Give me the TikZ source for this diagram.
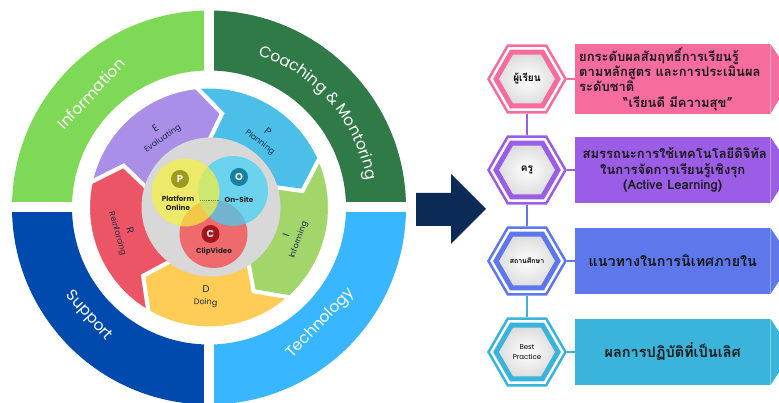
\documentclass[tikz,border=0pt]{standalone}
\usepackage{fontspec}
\setmainfont{Poppins}
\newfontfamily\thaifont[Script=Thai]{Loma}
\usetikzlibrary{shapes.geometric,decorations.text}

\definecolor{infogreen}{HTML}{7ED957}
\definecolor{coachgreen}{HTML}{2F7A47}
\definecolor{supportblue}{HTML}{004AAD}
\definecolor{techblue}{HTML}{38B6FF}
\definecolor{evalpurple}{HTML}{A98FE8}
\definecolor{planblue}{HTML}{4BBFE7}
\definecolor{informgreen}{HTML}{A2D66B}
\definecolor{doyellow}{HTML}{FFCC55}
\definecolor{reinred}{HTML}{EC5565}
\definecolor{pdcatext}{HTML}{1C2B4B}
\definecolor{venngray}{HTML}{D8D8D8}
\definecolor{vennyellow}{HTML}{F6F13B}
\definecolor{vennblue}{HTML}{3DD2F7}
\definecolor{vennred}{HTML}{F93C3F}
\definecolor{badgeP}{HTML}{9E9A1E}
\definecolor{badgeO}{HTML}{17819F}
\definecolor{badgeC}{HTML}{A3161B}
\definecolor{navyarrow}{HTML}{0B2A55}
\definecolor{learnpink}{HTML}{F76C9F}
\definecolor{teachpurple}{HTML}{9B5DE5}
\definecolor{schoolblue}{HTML}{5E78EC}
\definecolor{bestcyan}{HTML}{3BB4DC}

\begin{document}
\begin{tikzpicture}[x=1pt,y=1pt,
   ringlabel/.style={text=white,font=\fontsize{15.5}{16}\selectfont},
   pdcalabel/.style={text=pdcatext,align=center,inner sep=0pt,
      font=\fontsize{8}{12}\selectfont},
   venntext/.style={text=black!85,align=center,inner sep=1pt,
      font=\fontsize{7.2}{9}\selectfont\bfseries},
   badge/.style={circle,minimum size=18pt,inner sep=0pt,fill=#1,text=white!90!#1,
      font=\fontsize{10}{10}\selectfont\bfseries},
   hexouter/.style={regular polygon,regular polygon sides=6,minimum size=77pt,
      inner sep=0pt,draw=#1,line width=2.5pt,fill=white},
   hexinner/.style={regular polygon,regular polygon sides=6,minimum size=62pt,
      inner sep=1pt,draw=#1,line width=5pt,inner color=white,outer color=gray!28,
      align=center,text=black,font=\fontsize{10}{11}\selectfont\thaifont\bfseries},
   infobox/.style={fill=#1,anchor=west,text width=180pt,inner xsep=7.5pt,
      minimum height=66pt,align=center,text=black!90,
      font=\fontsize{13.3}{15.5}\selectfont\thaifont\bfseries},
   link/.style={draw=#1,line width=2.5pt}]
\useasboundingbox (0,0) rectangle (779,403);
\clip (0,0) rectangle (779,403);

% supervision wheel
\begin{scope}[shift={(209,195.5)}]
  \foreach \qang/\qcol in {0/coachgreen,90/infogreen,180/supportblue,270/techblue}
    \fill[\qcol] (\qang:197) arc[start angle=\qang,delta angle=90,radius=197]
      -- ({\qang+90}:137) arc[start angle=\qang+90,delta angle=-90,radius=137] -- cycle;
  \draw[white,line width=10pt] (-200,0) -- (200,0) (0,-200) -- (0,200);

  % E-P-I-D-R cycle
  \foreach \k/\segcol in {0/evalpurple,1/planblue,2/informgreen,3/doyellow,4/reinred} {
    \pgfmathsetmacro\endang{96-72*\k}
    \pgfmathsetmacro\startang{\endang+72}
    \filldraw[fill=\segcol,draw=white,line width=4pt,line join=miter]
      (\startang:121) arc[start angle=\startang,end angle=\endang,radius=121]
      -- ({\endang-14}:95) -- (\endang:55)
      arc[start angle=\endang,end angle=\startang,radius=55]
      -- ({\startang-14}:95) -- cycle;
  }
  \foreach \k/\pletter/\pword in {0/E/Evaluating,1/P/Planning,2/I/Informing,3/D/Doing,4/R/Reinforcing} {
    \pgfmathsetmacro\midang{124-72*\k}
    \pgfmathsetmacro\rotang{sin(\midang)>0 ? \midang-90 : \midang+90}
    \node[pdcalabel,rotate=\rotang] (pdca\pletter) at (\midang:89)
      {{\fontsize{10}{10}\selectfont\pletter}\\\pword};
  }

  % POC core
  \fill[venngray] (2,0.5) circle[radius=69.5];
  \fill[vennred,fill opacity=0.7] (4.5,-26.5) circle[radius=34];
  \fill[vennblue,fill opacity=0.7] (24,16.5) circle[radius=35];
  \fill[vennyellow,fill opacity=0.7] (-23.5,15) circle[radius=34];
  \node[badge=badgeP] (badgeP) at (-29,28.5) {P};
  \node[badge=badgeO] (badgeO) at (30,30.5) {O};
  \node[badge=badgeC] (badgeC) at (1.5,-26.5) {C};
  \node[venntext] (platform) at (-31,4) {Platform\\Online};
  \node[venntext] (onsite) at (30,7.5) {On-Site};
  \node[venntext] (clipvideo) at (5,-44.5) {ClipVideo};
  \draw[black!55,line width=0.4pt,dash pattern=on 1pt off 0.8pt,shorten <=5pt,shorten >=4pt]
    (platform.east |- onsite.west) -- (onsite.west);

  % outer ring texts
  \node[ringlabel,rotate=47] (info) at (136:164) {Information};
  \node[ringlabel,rotate=-48] (support) at (222:162) {Support};
  \node[ringlabel,rotate=46] (tech) at (-46:161) {Technology};
  \path[decorate,decoration={text along path,text align=center,text color=white,
      text={|\fontsize{15.5}{16}\selectfont|Coaching {\&} Montoring}}]
    (78:160) arc[start angle=78,end angle=4,radius=160];
\end{scope}

% arrow
\fill[navyarrow] (416,177) -- (451,177) -- (451,159) -- (486,194)
  -- (451,229) -- (451,210) -- (416,210) -- cycle;

% levels
\node[hexouter=learnpink] (learnO) at (527,324) {};
\node[hexinner=learnpink] (learn) at (527,324) {ผู้เรียน};
\node[infobox=learnpink,align=left,text width=187pt,inner xsep=4pt,
  font=\fontsize{13}{15.3}\selectfont\thaifont\bfseries] (learnbox) at (575,324)
  {ยกระดับผลสัมฤทธิ์การเรียนรู้\\ตามหลักสูตร และการประเมินผล\\ระดับชาติ\\\hspace*{44pt}“เรียนดี มีความสุข”};
\fill[learnpink] (learnbox.north east) -- ++(22,-33) -- (learnbox.south east) -- cycle;
\draw[link=learnpink] (learnO.east) -- (learnbox.west);

\node[hexouter=teachpurple] (teachO) at (527,233) {};
\node[hexinner=teachpurple] (teach) at (527,233) {ครู};
\node[infobox=teachpurple,font=\fontsize{13}{15.5}\selectfont\thaifont\bfseries] (teachbox) at (575,233)
  {สมรรถนะการใช้เทคโนโลยีดิจิทัล\\ในการจัดการเรียนรู้เชิงรุก\\(Active Learning)};
\fill[teachpurple] (teachbox.north east) -- ++(22,-33) -- (teachbox.south east) -- cycle;
\draw[link=teachpurple] (teachO.east) -- (teachbox.west);
\draw[link=teachpurple] (learnO.south) -- (teachO.north);

\node[hexouter=schoolblue] (schoolO) at (527,142) {};
\node[hexinner=schoolblue,font=\fontsize{7}{8}\selectfont\thaifont\bfseries] (school) at (527,142) {สถานศึกษา};
\node[infobox=schoolblue,font=\fontsize{14.3}{16}\selectfont\thaifont\bfseries] (schoolbox) at (575,142)
  {แนวทางในการนิเทศภายใน};
\fill[schoolblue] (schoolbox.north east) -- ++(22,-33) -- (schoolbox.south east) -- cycle;
\draw[link=schoolblue] (schoolO.east) -- (schoolbox.west);
\draw[link=schoolblue] (teachO.south) -- (schoolO.north);

\node[hexouter=bestcyan] (bestO) at (527,51) {};
\node[hexinner=bestcyan,font=\fontsize{7}{10}\selectfont] (best) at (527,51) {Best\\Practice};
\node[infobox=bestcyan,font=\fontsize{14.5}{16}\selectfont\thaifont\bfseries] (bestbox) at (575,51)
  {ผลการปฏิบัติที่เป็นเลิศ};
\fill[bestcyan] (bestbox.north east) -- ++(22,-33) -- (bestbox.south east) -- cycle;
\draw[link=bestcyan] (bestO.east) -- (bestbox.west);
\draw[link=bestcyan] (schoolO.south) -- (bestO.north);
\end{tikzpicture}
\end{document}
